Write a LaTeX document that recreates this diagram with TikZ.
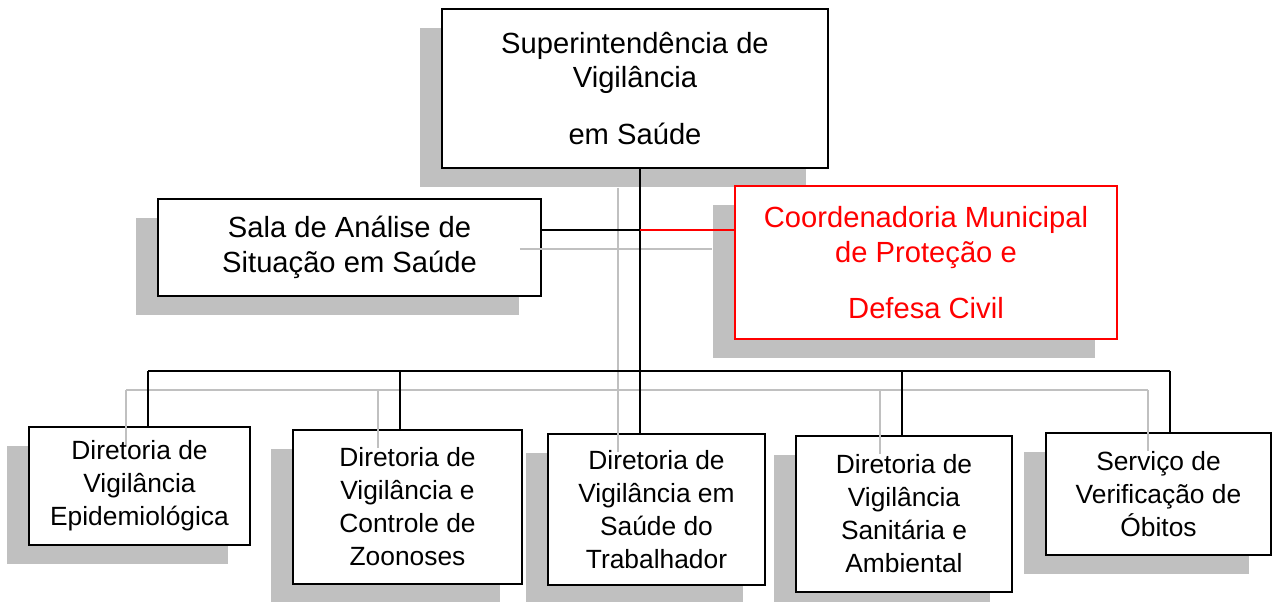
\documentclass[tikz,border=0pt]{standalone}
\usepackage{fontspec}
\setmainfont{Liberation Sans}
\usetikzlibrary{shadows}
\definecolor{silver}{RGB}{192,192,192}
\tikzstyle{unit} = [rectangle, draw, fill=white, line width=0.04cm, inner sep=0pt, align=center,
                font=\fontsize{16.6}{19.9}\selectfont,
                drop shadow={shadow xshift=-0.44cm, shadow yshift=-0.38cm, fill=silver, opacity=1, draw=none}]
\tikzstyle{dept} = [unit, font=\fontsize{15}{18.8}\selectfont]
\tikzstyle{link} = [draw, line width=0.04cm]
\tikzstyle{ghost} = [draw=silver, line width=0.03cm, transform canvas={shift={(-0.44cm,-0.38cm)}}]

\begin{document}
\begin{tikzpicture}[x=0.02cm, y=-0.02cm]
            \useasboundingbox (0,0) rectangle (1272,602);
            \node[unit, minimum width=7.72cm, minimum height=3.18cm](sup) at (635,88.5){Superintendência de\\ Vigilância\\[0.44cm] em Saúde};
            \node[unit, minimum width=7.66cm, minimum height=1.94cm](sala) at (349.5,247.5){Sala de Análise de\\ Situação em Saúde};
            \node[unit, draw=red, text=red, minimum width=7.64cm, minimum height=3.06cm](coord) at (926,262.5){Coordenadoria Municipal\\ de Proteção e\\[0.42cm] Defesa Civil};
            \node[dept, minimum width=4.42cm, minimum height=2.36cm](epi) at (139.5,486){Diretoria de\\ Vigilância\\ Epidemiológica};
            \node[dept, minimum width=4.58cm, minimum height=3.08cm](zoo) at (407.5,507){Diretoria de\\ Vigilância e\\ Controle de\\ Zoonoses};
            \node[dept, minimum width=4.34cm, minimum height=3.02cm](trab) at (656.5,509.5){Diretoria de\\ Vigilância em\\ Saúde do\\ Trabalhador};
            \node[dept, minimum width=4.32cm, minimum height=3.12cm](sanit) at (904,514){Diretoria de\\ Vigilância\\ Sanitária e\\ Ambiental};
            \node[dept, minimum width=4.5cm, minimum height=2.44cm](serv) at (1158.5,494){Serviço de\\ Verificação de\\ Óbitos};
            \coordinate (mid) at (640,230);
            \coordinate (d1) at (148,371);
            \coordinate (d2) at (400,371);
            \coordinate (d3) at (640,371);
            \coordinate (d4) at (902,371);
            \coordinate (d5) at (1170,371);
            % grey copies of the lines
            \path[ghost] (d3 |- sup.south) -- (d3 |- trab.north);
            \path[ghost] (sala.east |- mid) -- (mid -| coord.west);
            \path[ghost] (d1) -- (d5);
            \path[ghost] (d1) -- (d1 |- epi.north);
            \path[ghost] (d2) -- (d2 |- zoo.north);
            \path[ghost] (d4) -- (d4 |- sanit.north);
            \path[ghost] (d5) -- (d5 |- serv.north);
            \path[link] (d3 |- sup.south) -- (d3 |- trab.north);
            \path[link] (sala.east |- mid) -- (mid);
            \path[link, draw=red] (mid) -- (mid -| coord.west);
            \path[link] (d1) -- (d5);
            \path[link] (d1) -- (d1 |- epi.north);
            \path[link] (d2) -- (d2 |- zoo.north);
            \path[link] (d4) -- (d4 |- sanit.north);
            \path[link] (d5) -- (d5 |- serv.north);
        \end{tikzpicture}
\end{document}
